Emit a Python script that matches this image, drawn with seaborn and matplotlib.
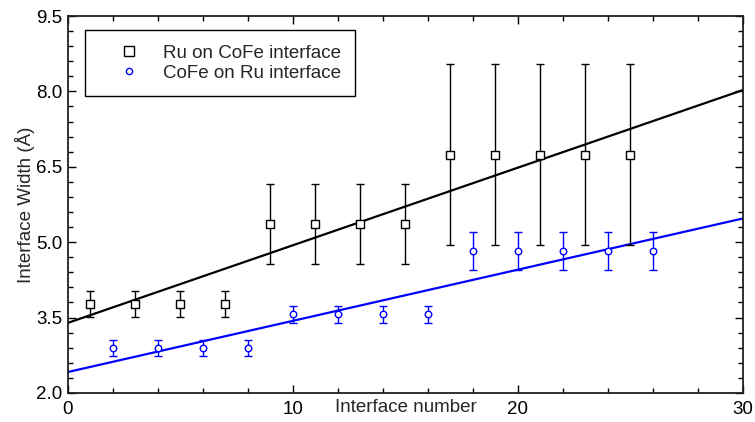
import numpy as np
import pandas as pd
import matplotlib
matplotlib.use("Agg")
import matplotlib.pyplot as plt
from matplotlib.lines import Line2D
from matplotlib.ticker import FixedLocator, AutoMinorLocator, FormatStrFormatter
import seaborn as sns

# ---- data ----
ru_x = [1, 3, 5, 7, 9, 11, 13, 15, 17, 19, 21, 23, 25]
ru_y = [3.77, 3.77, 3.77, 3.77, 5.36, 5.36, 5.36, 5.36, 6.74, 6.74, 6.74, 6.74, 6.74]
ru_err = [0.25, 0.25, 0.25, 0.25, 0.80, 0.80, 0.80, 0.80, 1.80, 1.80, 1.80, 1.80, 1.80]

cofe_x = [2, 4, 6, 8, 10, 12, 14, 16, 18, 20, 22, 24, 26]
cofe_y = [2.90, 2.90, 2.90, 2.90, 3.56, 3.56, 3.56, 3.56, 4.82, 4.82, 4.82, 4.82, 4.82]
cofe_err = [0.16, 0.16, 0.16, 0.16, 0.16, 0.16, 0.16, 0.16, 0.38, 0.38, 0.38, 0.38, 0.38]

x_ticks = [0, 10, 20, 30]
y_ticks = [2.0, 3.5, 5.0, 6.5, 8.0, 9.5]
labels = ["Ru on CoFe interface", "CoFe on Ru interface"]
x_label = "Interface number"
y_label = "Interface Width (Å)"

df_ru = pd.DataFrame({"x": ru_x, "y": ru_y, "err": ru_err})
df_cofe = pd.DataFrame({"x": cofe_x, "y": cofe_y, "err": cofe_err})

sns.set_style("ticks")
plt.rcParams["font.family"] = ["Liberation Sans", "DejaVu Sans"]
plt.rcParams["font.size"] = 13.5

fig = plt.figure(figsize=(7.55, 4.22), dpi=100)
ax = fig.add_axes([0.090, 0.069, 0.894, 0.893])
ax.set_xlim(x_ticks[0], x_ticks[-1])
ax.set_ylim(y_ticks[0], y_ticks[-1])

black = "black"
blue = "#0000ff"

# fit lines (linear regression of each series)
sns.regplot(data=df_ru, x="x", y="y", ax=ax, scatter=False, ci=None,
            truncate=False, color=black, line_kws={"lw": 1.6})
sns.regplot(data=df_cofe, x="x", y="y", ax=ax, scatter=False, ci=None,
            truncate=False, color=blue, line_kws={"lw": 1.6})

# error bars
ax.errorbar(df_ru["x"], df_ru["y"], yerr=df_ru["err"], fmt="none",
            ecolor=black, elinewidth=1.0, capsize=3.2, capthick=1.0)
ax.errorbar(df_cofe["x"], df_cofe["y"], yerr=df_cofe["err"], fmt="none",
            ecolor=blue, elinewidth=1.0, capsize=3.2, capthick=1.0)

# markers
sns.scatterplot(data=df_ru, x="x", y="y", ax=ax, marker="s", s=40,
                facecolor="white", edgecolor=black, linewidth=1.0, zorder=5)
sns.scatterplot(data=df_cofe, x="x", y="y", ax=ax, marker="o", s=22,
                facecolor="white", edgecolor=blue, linewidth=1.0, zorder=5)

ax.set_xlim(x_ticks[0], x_ticks[-1])
ax.set_ylim(y_ticks[0], y_ticks[-1])

ax.xaxis.set_major_locator(FixedLocator(x_ticks))
ax.xaxis.set_minor_locator(AutoMinorLocator(5))
ax.yaxis.set_major_locator(FixedLocator(y_ticks))
ax.yaxis.set_minor_locator(AutoMinorLocator(5))
ax.tick_params(which="both", direction="in", top=True, right=True,
               colors="black", width=1.0)
ax.tick_params(which="major", length=6)
ax.tick_params(which="minor", length=3.5)
ax.tick_params(axis="x", which="major", pad=6)
ax.tick_params(axis="y", which="major", pad=4)
ax.yaxis.set_major_formatter(FormatStrFormatter("%.1f"))

for sp in ax.spines.values():
    sp.set_visible(True)
    sp.set_color("#202020")
    sp.set_linewidth(1.3)

ax.set_xlabel(x_label)
ax.set_ylabel(y_label, labelpad=1)
ax.xaxis.set_label_coords(0.5, -0.016)

handles = [
    Line2D([], [], ls="none", marker="s", ms=6.5, mfc="white", mec=black, mew=1.0),
    Line2D([], [], ls="none", marker="o", ms=4.5, mfc="white", mec=blue, mew=1.0),
]
leg = ax.legend(handles, labels, loc="upper left", bbox_to_anchor=(0.025, 0.962),
                frameon=True, fancybox=False, shadow=False, handlelength=3.25,
                handletextpad=0.15, borderpad=0.75, labelspacing=0.17,
                borderaxespad=0, fontsize=13.5)
leg.get_frame().set_edgecolor("black")
leg.get_frame().set_linewidth(1.0)
leg.get_frame().set_alpha(1)

fig.savefig("out.png", dpi=100)
